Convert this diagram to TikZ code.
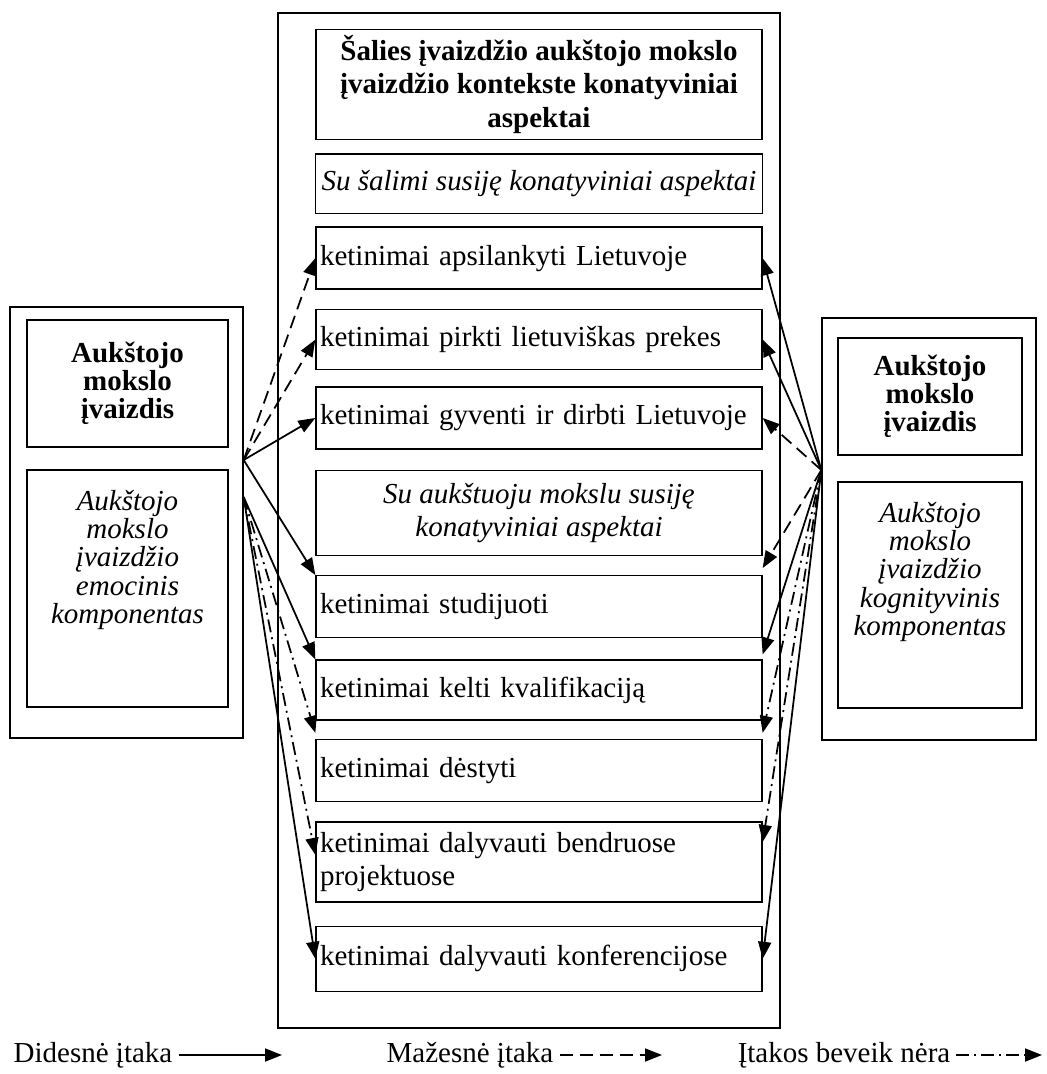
\documentclass[tikz,border=0pt]{standalone}
\usepackage{fontspec}
\setmainfont{Liberation Serif}
\usepackage{tikz}
\usetikzlibrary{arrows.meta,positioning}
\newcommand{\bodysize}{\fontsize{16.5}{19}\selectfont}
\newcommand{\sidesize}{\fontsize{16.5}{16}\selectfont}

\begin{document}
\begin{tikzpicture}[
    x=0.02cm, y=-0.02cm,
    frame/.style={rectangle, draw, line width=0.8pt},
    aspect/.style={frame, text width=8.76cm, inner xsep=0.08cm, align=left, minimum height=1.24cm, font=\bodysize},
    head/.style={frame, minimum width=8.92cm, align=center, font=\bodysize\bfseries},
    subhead/.style={frame, minimum width=8.92cm, align=center, font=\bodysize\itshape},
    imgtitle/.style={frame, align=center, font=\sidesize\bfseries},
    imgtext/.style={align=center, font=\sidesize\itshape},
    legend/.style={font=\bodysize},
    strongarr/.style={-{Triangle[length=0.34cm,width=0.26cm]}, line width=1pt},
    weakarr/.style={strongarr, dash pattern=on 0.26cm off 0.14cm},
    nilarr/.style={strongarr, dash pattern=on 0.26cm off 0.1cm on 0.04cm off 0.1cm},
]
\useasboundingbox (0,0) rectangle (1046,1074);

% konatyviniai aspektai
\node[frame, minimum width=10.04cm, minimum height=20.3cm] (cout) at (529,520.5) {};
\node[head, minimum height=2.1cm] (title) at (539,84.5) {Šalies įvaizdžio aukštojo mokslo\\ įvaizdžio kontekste konatyviniai\\ aspektai};
\node[subhead, minimum height=1.2cm, below=0.26cm of title] (country) {Su šalimi susiję konatyviniai aspektai};
\node[aspect, below=0.24cm of country] (visit) {ketinimai apsilankyti Lietuvoje};
\node[aspect, minimum height=1.2cm, below=0.38cm of visit] (buy) {ketinimai pirkti lietuviškas prekes};
\node[aspect, below=0.32cm of buy] (live) {ketinimai gyventi ir dirbti Lietuvoje};
\node[subhead, minimum height=1.7cm, below=0.4cm of live] (higher) {Su aukštuoju mokslu susiję\\ konatyviniai aspektai};
\node[aspect, below=0.38cm of higher] (study) {ketinimai studijuoti};
\node[aspect, minimum height=1.2cm, below=0.42cm of study] (qualify) {ketinimai kelti kvalifikaciją};
\node[aspect, below=0.36cm of qualify] (teach) {ketinimai dėstyti};
\node[aspect, minimum height=1.6cm, below=0.38cm of teach] (projects) {ketinimai dalyvauti bendruose\\ projektuose};
\node[aspect, minimum height=1.3cm, below=0.46cm of projects] (conf) {ketinimai dalyvauti konferencijose};

% emocinis komponentas
\node[frame, minimum width=4.66cm, minimum height=8.62cm] (lout) at (126.5,522.5) {};
\node[imgtitle, minimum width=4.02cm, minimum height=2.54cm] (lhead) at (127.5,383.5) {Aukštojo\\ mokslo\\ įvaizdis};
\node[frame, minimum width=4.02cm, minimum height=4.74cm] (lemo) at (127.5,588.5) {};
\node[imgtext, below=0.3cm of lemo.north] (lemotext) {Aukštojo\\ mokslo\\ įvaizdžio\\ emocinis\\ komponentas};

% kognityvinis komponentas
\node[frame, minimum width=4.28cm, minimum height=8.44cm] (rout) at (929,529) {};
\node[imgtitle, minimum width=3.68cm, minimum height=2.34cm] (rhead) at (930,396.5) {Aukštojo\\ mokslo\\ įvaizdis};
\node[frame, minimum width=3.68cm, minimum height=4.52cm] (rcog) at (930,595) {};
\node[imgtext, below=0.3cm of rcog.north] (rcogtext) {Aukštojo\\ mokslo\\ įvaizdžio\\ kognityvinis\\ komponentas};

\coordinate (lsrc) at ([yshift=1.25cm]lout.east);
\coordinate (lsrc2) at ([yshift=0.51cm]lout.east);
\coordinate (rsrc) at ([yshift=1.18cm]rout.west);

\draw[weakarr] (lsrc) -- (visit.west);
\draw[weakarr] (lsrc) -- (buy.west);
\draw[strongarr] (lsrc) -- (live.west);
\draw[strongarr] (lsrc) -- (study.north west);
\draw[strongarr] (lsrc2) -- (qualify.north west);
\draw[nilarr] (lsrc2) -- ([yshift=0.12cm]teach.north west);
\draw[nilarr] (lsrc2) -- ([yshift=0.14cm]projects.west);
\draw[strongarr] (lsrc2) -- (conf.west);

\draw[strongarr] (rsrc) -- (visit.east);
\draw[strongarr] (rsrc) -- (buy.east);
\draw[weakarr] (rsrc) -- (live.east);
\draw[weakarr] (rsrc) -- ([yshift=0.14cm]study.north east);
\draw[strongarr] (rsrc) -- ([yshift=0.1cm]qualify.north east);
\draw[nilarr] (rsrc) -- ([yshift=0.12cm]teach.north east);
\draw[nilarr] (rsrc) -- ([yshift=0.4cm]projects.east);
\draw[strongarr] (rsrc) -- (conf.east);

% legenda
\node[legend] (lgstrong) at (93,1055) {Didesnė įtaka};
\node[legend] (lgweak) at (470,1055) {Mažesnė įtaka};
\node[legend] (lgnil) at (844,1055) {Įtakos beveik nėra};
\coordinate (lgstrongend) at (282,1055);
\coordinate (lgweakend) at (662,1055);
\coordinate (lgnilend) at (1042,1055);
\draw[strongarr] (lgstrong) -- (lgstrongend);
\draw[weakarr] (lgweak) -- (lgweakend);
\draw[nilarr] (lgnil) -- (lgnilend);
\end{tikzpicture}
\end{document}
